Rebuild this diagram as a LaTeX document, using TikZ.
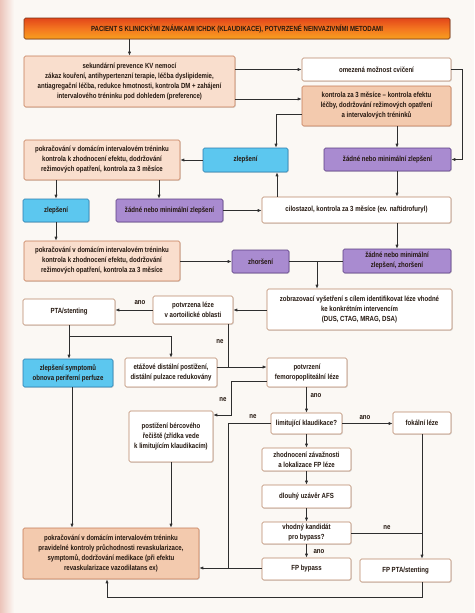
\documentclass[tikz,border=0pt]{standalone}
\usepackage{fontspec}
\setmainfont{Liberation Sans}[FakeStretch=0.82]
\usetikzlibrary{arrows.meta,shadows}
\definecolor{bg}{HTML}{FBF8F4}
\definecolor{txt}{HTML}{24170F}
\definecolor{peach}{HTML}{F9DECD}
\definecolor{tan}{HTML}{F3CAAE}
\definecolor{peachline}{HTML}{C47A55}
\definecolor{bluef}{HTML}{5CC7EF}
\definecolor{bluel}{HTML}{2A7DAE}
\definecolor{purf}{HTML}{A98BD0}
\definecolor{purl}{HTML}{5B3D82}
\definecolor{wline}{HTML}{B98667}
\definecolor{conn}{HTML}{2E2E2E}
\begin{document}
\begin{tikzpicture}[x=1pt,y=-1pt,
  font=\fontsize{7.4}{10}\selectfont\bfseries,
  sz/.style 2 args={minimum width=#1pt, minimum height=#2pt},
  base/.style={rectangle, rounded corners=1.5pt, align=center, inner sep=1pt,
    text=txt, line width=0.6pt,
    drop shadow={opacity=0.22, shadow xshift=0.8pt, shadow yshift=-0.8pt}},
  pbox/.style={base, draw=peachline, fill=peach},
  tbox/.style={base, draw=peachline, fill=tan},
  wbox/.style={base, draw=wline, fill=white},
  bbox/.style={base, draw=bluel, fill=bluef},
  ubox/.style={base, draw=purl, fill=purf},
  arr/.style={draw=conn, line width=0.7pt, -{Latex[length=4pt,width=3.2pt]}},
  ln/.style={draw=conn, line width=0.7pt},
  lbl/.style={text=txt, inner sep=0.5pt}
]
\useasboundingbox (0,0) rectangle (474,613);
\fill[bg] (0,0) rectangle (474,613);
\shade[left color={rgb,255:red,236;green,196;blue,186}, right color=bg] (0,0) rectangle (14,613);

% header
\node[base, draw={rgb,255:red,120;green,50;blue,20}, top color={rgb,255:red,226;green,70;blue,26},
  bottom color={rgb,255:red,247;green,160;blue,30}, middle color={rgb,255:red,244;green,118;blue,32},
  sz={426}{21}] (header) at (237,28.5)
  {PACIENT S KLINICKÝMI ZNÁMKAMI ICHDK (KLAUDIKACE), POTVRZENÉ NEINVAZIVNÍMI METODAMI};

\node[pbox, sz={211}{51}] (sek) at (129.5,81.5)
  {sekundární prevence KV nemocí\\ zákaz kouření, antihypertenzní terapie, léčba dyslipidemie,\\ antiagregační léčba, redukce hmotnosti, kontrola DM + zahájení\\ intervalového tréninku pod dohledem (preference)};
\node[wbox, sz={149}{23}] (omez) at (376.5,69.5) {omezená možnost cvičení};
\node[tbox, sz={149}{40}] (kontr) at (376.5,106)
  {kontrola za 3 měsíce – kontrola efektu\\ léčby, dodržování režimových opatření\\ a intervalových tréninků};

\node[pbox, sz={156}{40}] (pok1) at (102,160)
  {pokračování v domácím intervalovém tréninku\\ kontrola k zhodnocení efektu, dodržování\\ režimových opatření, kontrola za 3 měsíce};
\node[bbox, sz={85}{24}] (zlep1) at (245.5,160) {zlepšení};
\node[ubox, sz={127}{23}] (zad1) at (387.5,159.5) {žádné nebo minimální zlepšení};

\node[bbox, sz={66}{23}] (zlep2) at (56,210.5) {zlepšení};
\node[ubox, sz={107}{23}] (zad2) at (169.5,210.5) {žádné nebo minimální zlepšení};
\node[wbox, sz={189}{26}] (cilo) at (356.5,210) {cilostazol, kontrola za 3 měsíce (ev. naftidrofuryl)};

\node[pbox, sz={156}{40}] (pok2) at (102,261)
  {pokračování v domácím intervalovém tréninku\\ kontrola k zhodnocení efektu, dodržování\\ režimových opatření, kontrola za 3 měsíce};
\node[ubox, sz={57}{23}] (zhor) at (260.5,261.5) {zhoršení};
\node[ubox, sz={108}{24}] (zad3) at (397,261) {žádné nebo minimální\\ zlepšení, zhoršení};

\node[wbox, sz={185}{41}] (zobr) at (359.5,309.5)
  {zobrazovací vyšetření s cílem identifikovat léze vhodné\\ ke konkrétním intervencím\\ (DUS, CTAG, MRAG, DSA)};
\node[wbox, sz={80}{28}] (potv) at (193,310) {potvrzena léze\\ v aortoilické oblasti};
\node[wbox, sz={92}{26}] (pta) at (69,312) {PTA/stenting};

\node[bbox, sz={90}{28}] (zsym) at (68,373) {zlepšení symptomů\\ obnova periferní perfuze};
\node[wbox, sz={92}{29}] (etaz) at (171,372.5) {etážové distální postižení,\\ distální pulzace redukovány};
\node[wbox, sz={80}{29}] (femo) at (307,372.5) {potvrzení\\ femoropopliteální léze};

\node[wbox, sz={84}{51}] (post) at (171,436.5) {postižení bércového\\ řečiště (zřídka vede\\ k limitujícím klaudikacím)};
\node[wbox, sz={71}{21}] (limi) at (306.5,423.5) {limitující klaudikace?};
\node[wbox, sz={58}{22}] (foka) at (422,423) {fokální léze};
\node[wbox, sz={89}{23}] (zhod) at (306.5,459.5) {zhodnocení závažnosti\\ a lokalizace FP léze};
\node[wbox, sz={89}{23}] (dlou) at (306.5,496.5) {dlouhý uzávěr AFS};
\node[wbox, sz={89}{22}] (vhod) at (306.5,533) {vhodný kandidát\\ pro bypass?};
\node[wbox, sz={89}{22}] (fpby) at (306.5,569) {FP bypass};
\node[wbox, sz={91}{23}] (fpta) at (405.5,570.5) {FP PTA/stenting};

\node[tbox, sz={176}{51}] (fin) at (111,553.5)
  {pokračování v domácím intervalovém tréninku\\ pravidelné kontroly průchodnosti revaskularizace,\\ symptomů, dodržování medikace (při efektu\\ revaskularizace vazodilatans ex)};

% coordinates
\coordinate (j1) at (317,261.5);
\coordinate (j2) at (69,336);
\coordinate (j3) at (228,367);
\coordinate (j4) at (228,568);
\coordinate (k1) at ([yshift=7pt]kontr.west);
\coordinate (k2) at ([yshift=-8pt]kontr.west);
\coordinate (z1n) at ([xshift=30.5pt]zlep1.north);
\coordinate (z1s) at ([xshift=31.5pt]zlep1.south);
\coordinate (k3) at ([xshift=20.5pt]kontr.south);
\coordinate (d1s) at ([xshift=9.5pt]zad1.south);
\coordinate (d2n) at ([xshift=-10.5pt]zad2.north);
\coordinate (p1s) at ([xshift=35pt]potv.south);
\coordinate (f1) at ([yshift=-8.5pt]femo.west);
\coordinate (ps1) at ([yshift=21.5pt]post.east);
\coordinate (fs1) at ([xshift=-0.5pt]femo.south);
\coordinate (fin1) at ([xshift=-4pt]fin.south);
\coordinate (zs1) at ([xshift=4pt]zsym.south);

% connectors
\draw[arr] (header.south -| sek.north) -- (sek.north);
\draw[arr] (sek.east |- omez.west) -- (omez.west);
\draw[arr] (sek.east |- k1) -- (k1);
\draw[arr] (k2) -| (z1n);
\draw[arr] (k3) -- (k3 |- zad1.north);
\draw[arr] (omez.east) -- ++(11,0) |- (zad1.east);
\draw[arr] (zlep1.west) -- (pok1.east |- zlep1.west);
\draw[arr] (zlep2.north |- pok1.south) -- (zlep2.north);
\draw[arr] (d2n |- pok1.south) -- (d2n);
\draw[arr] (zad2.east) -- (cilo.west |- zad2.east);
\draw[arr] (z1s |- cilo.north) -- (z1s);
\draw[arr] (d1s) -- (d1s |- cilo.north);
\draw[arr] (zlep2.south) -- (zlep2.south |- pok2.north);
\draw[arr] (pok2.east |- zhor.west) -- (zhor.west);
\draw[arr] (zad3.north |- cilo.south) -- (zad3.north);
\draw[ln] (zhor.east) -- (zad3.west |- zhor.east);
\draw[arr] (j1) -- (j1 |- zobr.north);
\draw[arr] (zobr.west |- potv.east) -- (potv.east);
\draw[arr] (potv.west) -- (pta.east |- potv.west);
\node[lbl] (lano1) at (140,303) {ano};
\draw[arr] (pta.south) -- (pta.south |- zsym.north);
\draw[arr] (j2) -| (etaz.north);
\draw[ln] (p1s) -- (j3);
\draw[ln] (etaz.east |- j3) -- (j3);
\draw[arr] (j3) -- (j3 -| femo.west);
\node[lbl] (lne1) at (220,342) {ne};
\draw[arr] (f1) -- ++(-35,0) |- (ps1);
\node[lbl] (lne2) at (223,400) {ne};
\draw[arr] (fs1) -- (fs1 |- limi.north);
\node[lbl] (lano2) at (316,395.5) {ano};
\draw[arr] (limi.east) -- (foka.west |- limi.east);
\node[lbl] (lano3) at (365,417.5) {ano};
\draw[ln] (limi.west) -| (j4);
\node[lbl] (lne3) at (253,417) {ne};
\draw[arr] (fpby.west |- j4) -- (fin.east |- j4);
\draw[arr] (limi.south) -- (zhod.north);
\draw[arr] (zhod.south) -- (dlou.north);
\draw[arr] (dlou.south) -- (vhod.north);
\draw[arr] (vhod.south) -- (fpby.north);
\node[lbl] (lano4) at (319,552) {ano};
\draw[ln] (vhod.east) -- (vhod.east -| foka.south);
\node[lbl] (lne4) at (387,528) {ne};
\draw[arr] (foka.south) -- (foka.south |- fpta.north);
\draw[arr] (foka.south |- fpta.south) -- ++(0,15.5) -| (fin1);
\draw[arr] (post.south) -- (post.south |- fin.north);
\draw[arr] (zs1) -- (zs1 |- fin.north);
\end{tikzpicture}
\end{document}
